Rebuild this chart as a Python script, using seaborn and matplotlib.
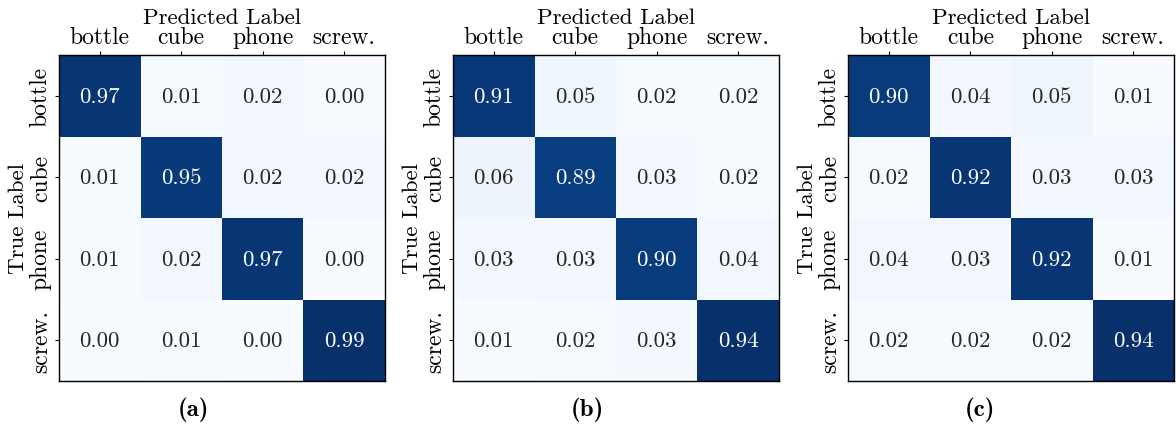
import numpy as np
import pandas as pd
import matplotlib
matplotlib.use("Agg")
import matplotlib.pyplot as plt
import seaborn as sns

plt.rcParams['font.family'] = ['cmr10']
plt.rcParams['axes.unicode_minus'] = False
plt.rcParams['mathtext.fontset'] = 'cm'

classes = ["bottle", "cube", "phone", "screw."]
panel_labels = ["(a)", "(b)", "(c)"]

cm_a = [[0.97, 0.01, 0.02, 0.00],
        [0.01, 0.95, 0.02, 0.02],
        [0.01, 0.02, 0.97, 0.00],
        [0.00, 0.01, 0.00, 0.99]]
cm_b = [[0.91, 0.05, 0.02, 0.02],
        [0.06, 0.89, 0.03, 0.02],
        [0.03, 0.03, 0.90, 0.04],
        [0.01, 0.02, 0.03, 0.94]]
cm_c = [[0.90, 0.04, 0.05, 0.01],
        [0.02, 0.92, 0.03, 0.03],
        [0.04, 0.03, 0.92, 0.01],
        [0.02, 0.02, 0.02, 0.94]]
matrices = [cm_a, cm_b, cm_c]

fig = plt.figure(figsize=(11.76, 4.31), dpi=100)
lefts = [59, 453, 848]
label_x = [193, 587, 980]
W, H = 1176, 431
for i, (m, lab) in enumerate(zip(matrices, panel_labels)):
    ax = fig.add_axes([lefts[i] / W, 1 - 382 / H, 326 / W, 326 / H])
    df = pd.DataFrame(m, index=classes, columns=classes)
    sns.heatmap(df, annot=True, fmt=".2f", cmap="Blues", cbar=False, ax=ax,
                annot_kws={"fontsize": 16.5, "family": "cmr10"})
    ax.xaxis.tick_top()
    ax.xaxis.set_label_position('top')
    ax.set_xlabel("Predicted Label", fontsize=16.5, labelpad=2)
    ax.set_ylabel("True Label", fontsize=16.5, labelpad=1)
    ax.set_xticklabels(classes, rotation=0, fontsize=17)
    ax.set_yticklabels(classes, rotation=90, fontsize=17, va='center')
    ax.tick_params(axis='x', length=3.2, width=0.8, direction='out', pad=2)
    ax.tick_params(axis='y', length=3.2, width=0.8, direction='out', pad=2)
    for s in ax.spines.values():
        s.set_visible(True)
        s.set_linewidth(1.0)
        s.set_color('black')
    fig.text(label_x[i] / W, 1 - 410 / H, lab, ha='center', va='center',
             fontsize=18, family='cmb10')

fig.savefig("out.png", dpi=100)
